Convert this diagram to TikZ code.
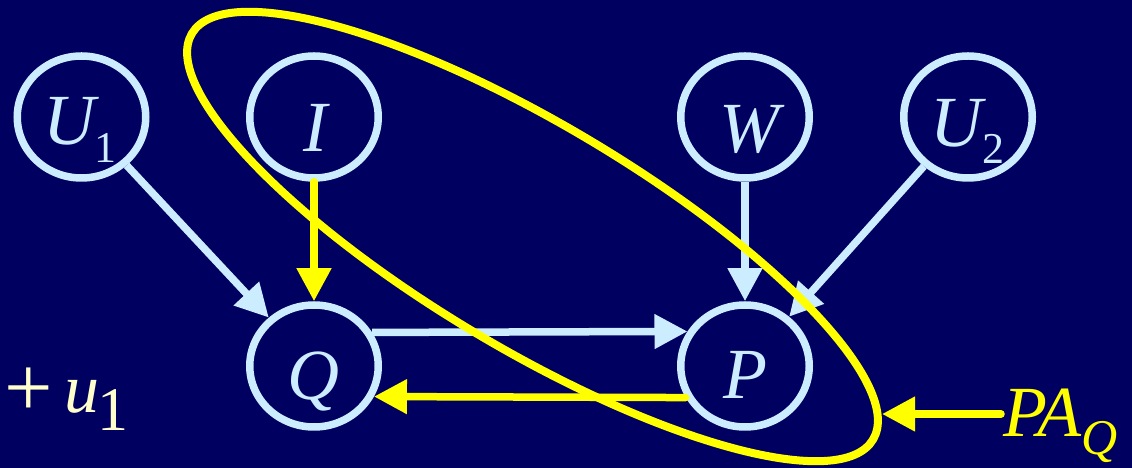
\documentclass[tikz,border=0pt]{standalone}
\usepackage{fontspec}
\setmainfont{Liberation Serif}
\usetikzlibrary{arrows.meta,shapes.geometric}
\definecolor{bg}{RGB}{0,0,96}
\definecolor{nodeblue}{RGB}{204,236,255}
\definecolor{hiyellow}{RGB}{255,255,0}
\definecolor{paleyellow}{RGB}{255,255,204}
\newcommand\mysub[2]{\raisebox{#1}{\fontsize{44}{44}\selectfont\upshape #2}}
\begin{document}
\begin{tikzpicture}[x=1pt,y=1pt,
  vnode/.style={ellipse, draw=nodeblue, line width=7.5pt, minimum width=128.5pt, minimum height=122pt, inner sep=0pt},
  vlabel/.style={text=nodeblue, font=\fontsize{72}{72}\selectfont\itshape, inner sep=0pt, anchor=base},
  bluearrow/.style={draw=nodeblue, line width=7.5pt, -{Triangle[length=33pt,width=33pt]}},
  yellowarrow/.style={draw=hiyellow, line width=7.5pt, line cap=round, -{Triangle[length=33pt,width=33pt]}},
  setring/.style={draw=hiyellow, line width=8pt, ellipse, inner sep=0pt}
]
\fill[bg] (0,0) rectangle (1132,468);
\useasboundingbox (0,0) rectangle (1132,468);

% nodes
\node[vnode] (U1) at (81.5,351) {};
\node[vnode] (I)  at (314,351) {};
\node[vnode] (W)  at (745,351) {};
\node[vnode] (U2) at (968,351) {};
\node[vnode] (Q)  at (314,102) {};
\node[vnode] (P)  at (745,102) {};

% labels
\node[vlabel] (tU1) at (80,323) {U\mysub{-18pt}{1}};
\node[vlabel] (tI)  at (315,316) {I};
\node[vlabel] (tW)  at (749,315) {W};
\node[vlabel] (tU2) at (967,321) {U\mysub{-17pt}{2}};
\node[vlabel] (tQ)  at (313,68) {Q};
\node[vlabel] (tP)  at (745,69) {P};

% connectors
\draw[bluearrow] (U1) -- (Q);
\draw[yellowarrow] (I.south) -- (Q.north);
\draw[bluearrow] (W.south) -- (P.north);
\draw[bluearrow] (U2) -- (P);
\draw[bluearrow] (Q.30.35) -- (P.149.65);
\draw[yellowarrow] (P.-152.64) -- (Q.-27.36);

% extra term
\node[text=paleyellow, inner sep=0pt, anchor=base west] (u1term) at (4,55)
  {\raisebox{-4pt}{\fontsize{86}{86}\selectfont +}\hspace{12pt}{\fontsize{70}{70}\selectfont\textit{u}}\hspace{-2pt}\raisebox{-18pt}{\fontsize{62}{62}\selectfont 1}};

% PA_Q label
\node[text=hiyellow, font=\fontsize{72}{72}\selectfont\itshape, inner sep=0pt, anchor=base west] (PAQ) at (1003,31)
  {PA\raisebox{-18pt}{\fontsize{50}{50}\selectfont Q}};
\coordinate (patip) at (882,54);
\draw[yellowarrow] ([shift={(-2pt,23pt)}]PAQ.base west) -- (patip);

% parent set ring
\node[setring, minimum width=793pt, minimum height=224pt, rotate=-30.8] (paset) at (532.5,231.5) {};
\end{tikzpicture}
\end{document}
